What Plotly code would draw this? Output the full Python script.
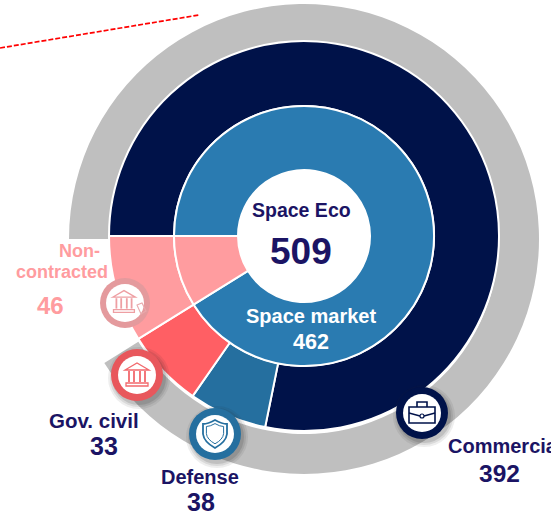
import plotly.graph_objects as go

# Values printed on the chart
total_label = "Space Eco"
total_value = 509
market_label = "Space market"
market_value = 462
segment_names = ["Commercial", "Defense", "Gov. civil", "Non-contracted"]
segment_values = [392, 38, 33, 46]
# Arc sizes as measured on the picture (slightly differ from printed values)
segment_arcs = [398, 33, 33, 45]
inner_arcs = [464, 45]
backdrop_arcs = [464, 45]

NAVY = "#001249"
BLUE = "#2a7bb1"
DBLUE = "#256f9f"
RED = "#ff5f64"
PINK = "#ff9c9f"
GRAY = "#bfbfbf"
TEXT = "#1b1464"
W, H = 551, 512
CX, CY = 304, 236
FONT = "Liberation Sans"


def ring(values, colors, r_out, r_in, line=2, cx=CX, cy=CY):
    return go.Pie(
        values=values, sort=False, direction="clockwise", rotation=-90,
        hole=r_in / r_out, textinfo="none", hoverinfo="skip", showlegend=False,
        marker=dict(colors=colors, line=dict(color="white", width=line)),
        domain=dict(x=[(cx - r_out) / W, (cx + r_out) / W],
                    y=[1 - (cy + r_out) / H, 1 - (cy - r_out) / H]),
    )


fig = go.Figure()
fig.add_trace(ring(backdrop_arcs, [GRAY, "rgba(0,0,0,0)"], 235, 195, line=0, cy=239))
fig.add_trace(ring(segment_arcs, [NAVY, DBLUE, RED, PINK], 195, 130))
fig.add_trace(ring(inner_arcs, [BLUE, PINK], 130, 66))
fig.add_trace(go.Scatter(x=[0], y=[0], mode="markers", marker=dict(opacity=0),
                         hoverinfo="skip", showlegend=False))

shapes = []


def circle(cx, cy, r, fill, line=None, lw=0):
    shapes.append(dict(type="circle", xref="x", yref="y", layer="above",
                       x0=cx - r, x1=cx + r, y0=cy - r, y1=cy + r,
                       fillcolor=fill, line=dict(color=line or fill, width=lw)))


def path(d, color, lw=1.5, fill="rgba(0,0,0,0)"):
    shapes.append(dict(type="path", xref="x", yref="y", layer="above", path=d,
                       fillcolor=fill, line=dict(color=color, width=lw)))


def badge(cx, cy, color, r=26, inner=19, shadow=True):
    if shadow:
        for dr, op in ((5, .08), (3, .10), (1, .14)):
            circle(cx + 2, cy + 3, r + dr, f"rgba(40,40,40,{op})")
    circle(cx, cy, r, color)
    circle(cx, cy, inner, "white")


def bank(cx, cy, c, s=1.0):
    p = lambda x, y: f"{cx + x * s:.1f},{cy + y * s:.1f}"
    path(f"M{p(-12,-5)} L{p(0,-12)} L{p(12,-5)} Z", c, 1.3)
    for x in (-8, -3, 3, 8):
        path(f"M{p(x,-4)} L{p(x,7)}", c, 1.8)
    path(f"M{p(-11,8)} L{p(11,8)} L{p(11,11)} L{p(-11,11)} Z", c, 1.3)


def shield(cx, cy, c):
    p = lambda x, y: f"{cx + x:.1f},{cy + y:.1f}"
    for k, lw in ((1.0, 1.8), (.72, 1.0)):
        path(f"M{p(0,-13*k)} Q{p(7*k,-9*k)} {p(12*k,-9*k)} L{p(12*k,1*k)} "
             f"Q{p(11*k,9*k)} {p(0,15*k)} Q{p(-11*k,9*k)} {p(-12*k,1*k)} "
             f"L{p(-12*k,-9*k)} Q{p(-7*k,-9*k)} {p(0,-13*k)} Z", c, lw)


def briefcase(cx, cy, c):
    p = lambda x, y: f"{cx + x:.1f},{cy + y:.1f}"
    path(f"M{p(-13,-6)} L{p(13,-6)} L{p(13,10)} L{p(-13,10)} Z", c, 1.6)
    path(f"M{p(-5,-6)} L{p(-5,-11)} L{p(5,-11)} L{p(5,-6)}", c, 1.6)
    path(f"M{p(-13,0)} L{p(-2,3)} M{p(2,3)} L{p(13,0)}", c, 1.4)
    circle(cx, cy + 3, 2, "white", c, 1.2)


badge(422, 413, NAVY)
briefcase(422, 413, NAVY)
badge(215, 434, DBLUE)
shield(215, 433, DBLUE)
badge(137, 375, "#e8575c")
bank(137, 375, "#f2686c")
badge(125, 303, "#e49a9d", r=25, inner=19, shadow=False)
bank(124, 302, "#ee9fa3", 0.95)
path("M137,305 L142,303 L146,311 L141,314 Z", "#e8a9ac", 1.1)

annotations = []


def label(text, x, y, size, color, anchor="center"):
    annotations.append(dict(text=f"<b>{text}</b>", x=x, y=y, xref="x", yref="y",
                            showarrow=False, xanchor=anchor, yanchor="middle",
                            align="center",
                            font=dict(family=FONT, size=size, color=color)))


label(total_label, 301, 210, 19.5, TEXT)
label(str(total_value), 301, 251, 37, TEXT)
label(market_label, 311, 316, 20, "white")
label(str(market_value), 311, 342, 21.5, "white")
label("Non-", 79, 251, 18, PINK)
label("contracted", 62, 272, 18, PINK)
label(str(segment_values[3]), 50, 305, 24, PINK)
label(segment_names[2], 94, 420, 20.5, TEXT)
label(str(segment_values[2]), 104, 446, 25, TEXT)
label(segment_names[1], 200, 477, 20, TEXT)
label(str(segment_values[1]), 201, 502, 25, TEXT)
label(segment_names[0], 446, 446, 20, TEXT, anchor="left")
label(str(segment_values[0]), 499, 473, 24.5, TEXT)

shapes.append(dict(type="line", xref="x", yref="y", layer="above",
                   x0=0, y0=48, x1=199, y1=15,
                   line=dict(color="#ff0000", width=1.7, dash="5px,2px")))

fig.update_layout(
    width=W, height=H, margin=dict(l=0, r=0, t=0, b=0),
    paper_bgcolor="white", plot_bgcolor="rgba(0,0,0,0)",
    xaxis=dict(range=[0, W], visible=False, domain=[0, 1], fixedrange=True),
    yaxis=dict(range=[H, 0], visible=False, domain=[0, 1], fixedrange=True),
    shapes=shapes, annotations=annotations,
)
fig.write_html("out.html", config={"displayModeBar": False},
               post_script="document.body.style.margin='0';document.body.style.overflow='hidden';")
